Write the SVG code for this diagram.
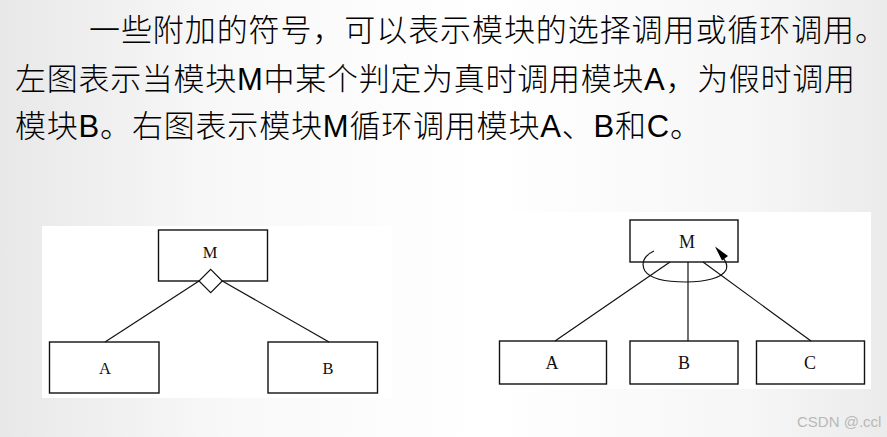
<svg xmlns="http://www.w3.org/2000/svg" width="887" height="437" viewBox="0 0 887 437">
<defs>
<linearGradient id="bg" x1="0" y1="0" x2="1" y2="0">
<stop offset="0" stop-color="#e8e8e8"/>
<stop offset="0.25" stop-color="#f8f8f8"/>
<stop offset="0.55" stop-color="#ffffff"/>
<stop offset="0.85" stop-color="#f6f6f6"/>
<stop offset="1" stop-color="#ebebeb"/>
</linearGradient>
<style>
.box{fill:#fff;stroke:#111;stroke-width:1.4}
.ln{fill:none;stroke:#111;stroke-width:1.2}
.lbl{font-family:"Liberation Serif","Times New Roman",serif;fill:#111;text-anchor:middle}
.cn{font-family:"Liberation Sans","Noto Sans CJK SC",sans-serif;font-size:31px;font-weight:300;fill:#000}
</style>
</defs>
<rect x="0" y="0" width="887" height="437" fill="url(#bg)"/>
<rect x="42" y="226" width="350" height="172" fill="#fff"/>
<rect x="490" y="212" width="381" height="177" fill="#fff"/>

<text class="cn" x="89" y="41" textLength="797" lengthAdjust="spacing">一些附加的符号，可以表示模块的选择调用或循环调用。</text>
<text class="cn" x="15" y="90" textLength="840" lengthAdjust="spacing">左图表示当模块M中某个判定为真时调用模块A，为假时调用</text>
<text class="cn" x="15" y="137" textLength="686" lengthAdjust="spacing">模块B。右图表示模块M循环调用模块A、B和C。</text>

<g id="left-M">
<rect class="box" x="158.5" y="230" width="109" height="51"/>
<text class="lbl" x="210" y="257.5" font-size="16.5">M</text>
</g>
<g id="left-diamond">
<polygon points="210.7,269.3 222.3,281 210.7,292.7 199,281" fill="#fff" stroke="#111" stroke-width="1.2"/>
</g>
<g id="left-A">
<rect class="box" x="49.5" y="342" width="109.5" height="51"/>
<text class="lbl" x="105" y="374" font-size="16.5">A</text>
</g>
<g id="left-B">
<rect class="box" x="268" y="342" width="109.5" height="51"/>
<text class="lbl" x="328" y="374" font-size="16.5">B</text>
</g>

<g id="right-M">
<rect class="box" x="630" y="220" width="108" height="42"/>
<text class="lbl" x="687" y="248" font-size="18">M</text>
</g>
<g id="right-A">
<rect class="box" x="499.5" y="341" width="107" height="43"/>
<text class="lbl" x="552" y="369" font-size="18">A</text>
</g>
<g id="right-B">
<rect class="box" x="630" y="341" width="108" height="43"/>
<text class="lbl" x="684" y="369" font-size="18">B</text>
</g>
<g id="right-C">
<rect class="box" x="756.5" y="341" width="108" height="43"/>
<text class="lbl" x="810" y="369" font-size="18">C</text>
</g>

<g id="connectors">
<line class="ln" x1="199" y1="281" x2="105" y2="342"/>
<line class="ln" x1="222.3" y1="281" x2="329" y2="342"/>
<line class="ln" x1="670" y1="262" x2="555" y2="341"/>
<line class="ln" x1="688" y1="262" x2="688" y2="341"/>
<line class="ln" x1="703" y1="262" x2="811" y2="341"/>
<path class="ln" d="M654,251 C643,256 641,264 645,271 C651,280 670,282 686,282 C705,282 722,278 726,270 C728,265 726,261 722,257"/>
<polygon points="715,246.5 728,256 722,260.5" fill="#000"/>
</g>

<text x="797" y="427" font-family="Liberation Sans, Arial, sans-serif" font-size="15" fill="#b8b8b8">CSDN @.ccl</text>
</svg>
